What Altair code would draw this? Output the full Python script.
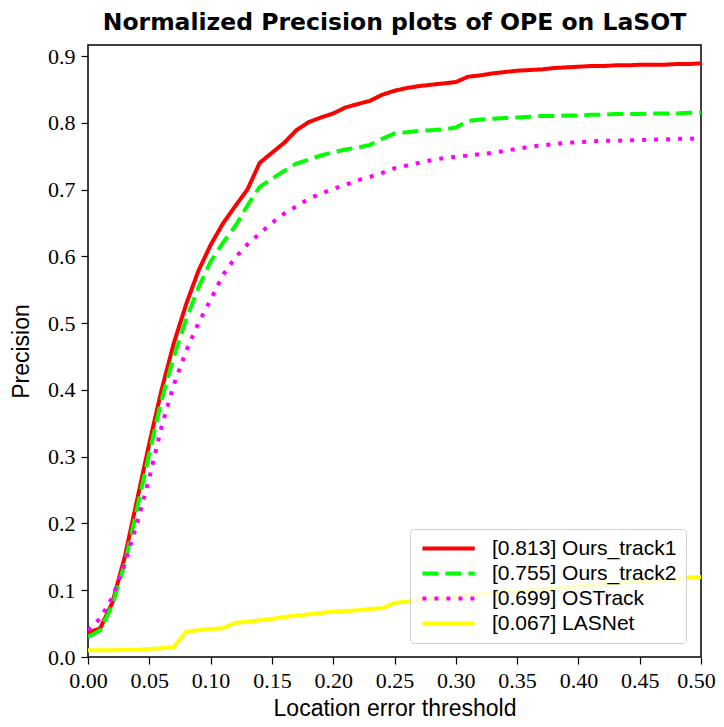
import altair as alt
import pandas as pd

thresholds = [0.00, 0.01, 0.02, 0.03, 0.04, 0.05, 0.06, 0.07, 0.08, 0.09,
              0.10, 0.11, 0.12, 0.13, 0.14, 0.15, 0.16, 0.17, 0.18, 0.19,
              0.20, 0.21, 0.22, 0.23, 0.24, 0.25, 0.26, 0.27, 0.28, 0.29,
              0.30, 0.31, 0.32, 0.33, 0.34, 0.35, 0.36, 0.37, 0.38, 0.39,
              0.40, 0.41, 0.42, 0.43, 0.44, 0.45, 0.46, 0.47, 0.48, 0.49, 0.50]

ours_track1 = [0.036, 0.043, 0.082, 0.150, 0.235, 0.320, 0.400, 0.470, 0.528, 0.578,
               0.617, 0.649, 0.675, 0.700, 0.740, 0.755, 0.770, 0.789, 0.801, 0.808,
               0.814, 0.823, 0.828, 0.833, 0.842, 0.848, 0.852, 0.855, 0.857, 0.859,
               0.861, 0.869, 0.871, 0.874, 0.876, 0.878, 0.879, 0.880, 0.882, 0.883,
               0.884, 0.885, 0.885, 0.886, 0.886, 0.887, 0.887, 0.887, 0.888, 0.888, 0.889]

ours_track2 = [0.030, 0.040, 0.078, 0.140, 0.222, 0.305, 0.385, 0.450, 0.505, 0.553,
               0.592, 0.620, 0.645, 0.676, 0.704, 0.716, 0.728, 0.739, 0.745, 0.751,
               0.756, 0.760, 0.763, 0.767, 0.776, 0.784, 0.786, 0.788, 0.789, 0.790,
               0.793, 0.803, 0.805, 0.806, 0.807, 0.808, 0.809, 0.810, 0.810, 0.811,
               0.811, 0.812, 0.812, 0.813, 0.813, 0.813, 0.814, 0.814, 0.814, 0.815, 0.815]

ostrack = [0.040, 0.058, 0.090, 0.140, 0.200, 0.268, 0.345, 0.408, 0.458, 0.500,
           0.535, 0.572, 0.598, 0.618, 0.634, 0.650, 0.664, 0.675, 0.686, 0.694,
           0.701, 0.707, 0.714, 0.719, 0.725, 0.732, 0.736, 0.740, 0.744, 0.747,
           0.749, 0.751, 0.753, 0.755, 0.758, 0.761, 0.764, 0.766, 0.768, 0.770,
           0.771, 0.772, 0.773, 0.773, 0.774, 0.774, 0.775, 0.775, 0.776, 0.776, 0.777]

lasnet = [0.010, 0.010, 0.010, 0.011, 0.011, 0.012, 0.013, 0.015, 0.038, 0.040,
          0.042, 0.043, 0.051, 0.053, 0.055, 0.057, 0.060, 0.062, 0.064, 0.066,
          0.068, 0.069, 0.070, 0.072, 0.073, 0.081, 0.083, 0.085, 0.086, 0.088,
          0.090, 0.092, 0.094, 0.095, 0.097, 0.098, 0.100, 0.101, 0.103, 0.104,
          0.106, 0.107, 0.109, 0.110, 0.112, 0.113, 0.114, 0.116, 0.117, 0.119, 0.120]

labels = ["[0.813] Ours_track1", "[0.755] Ours_track2", "[0.699] OSTrack", "[0.067] LASNet"]
colors = ["#ff0000", "#00ff00", "#ff00ff", "#ffff00"]
dashes = [[1, 0], [16, 7], [4, 8], [1, 0]]
x_ticks = [0.00, 0.05, 0.10, 0.15, 0.20, 0.25, 0.30, 0.35, 0.40, 0.45, 0.50]
y_ticks = [0.0, 0.1, 0.2, 0.3, 0.4, 0.5, 0.6, 0.7, 0.8, 0.9]

series = [ours_track1, ours_track2, ostrack, lasnet]
rows = []
for lab, vals in zip(labels, series):
    for t, v in zip(thresholds, vals):
        rows.append({"threshold": t, "precision": v, "tracker": lab})
df = pd.DataFrame(rows)

chart = alt.Chart(df).mark_line(strokeWidth=4, strokeCap="butt", clip=True).encode(
    x=alt.X("threshold:Q",
            scale=alt.Scale(domain=[0, 0.5], nice=False, zero=False),
            axis=alt.Axis(values=x_ticks, format=".2f", title="Location error threshold",
                          labelFlush=False, labelOverlap=False,
                          labelOffset={"condition": {"test": "datum.value >= 0.5", "value": -5},
                                       "value": 0})),
    y=alt.Y("precision:Q",
            scale=alt.Scale(domain=[0, 0.9165], nice=False),
            axis=alt.Axis(values=y_ticks, format=".1f", title="Precision",
                          labelFlush=False, labelOverlap=False)),
    color=alt.Color("tracker:N",
                    scale=alt.Scale(domain=labels, range=colors),
                    legend=alt.Legend(title=None, orient="none", legendX=322, legendY=484,
                                      symbolType="M-1,0H6.4", symbolSize=200,
                                      symbolStrokeWidth=4,
                                      labelFont="Liberation Sans", labelFontSize=21,
                                      labelColor="black", labelLimit=400,
                                      padding=9, rowPadding=3, labelOffset=52,
                                      fillColor="rgba(255,255,255,0.8)",
                                      strokeColor="#d0d0d0",
                                      cornerRadius=4)),
    strokeDash=alt.StrokeDash("tracker:N",
                              scale=alt.Scale(domain=labels, range=dashes),
                              legend=None),
    order=alt.Order("tracker:N"),
).properties(
    width=613,
    height=612,
    autosize=alt.AutoSizeParams(type="none"),
    padding={"left": 80, "top": 37, "right": 15, "bottom": 62},
    title=alt.TitleParams("Normalized Precision plots of OPE on LaSOT",
                          font="DejaVu Sans", fontSize=23.5, fontWeight="bold",
                          color="black", anchor="middle", offset=11),
).configure_view(
    stroke="black", strokeWidth=1.5
).configure_axis(
    grid=False, domain=False, tickColor="black", tickSize=7, tickWidth=1.2,
    labelFont="Liberation Serif", labelFontSize=22, labelColor="black",
    titleFont="Liberation Sans", titleFontSize=23, titleFontWeight="normal",
    titleColor="black"
).configure_axisX(
    labelPadding=6, titlePadding=6
).configure_axisY(
    labelPadding=6, titlePadding=14
)

chart.save("out.html", embed_options={"renderer": "svg", "actions": False})
